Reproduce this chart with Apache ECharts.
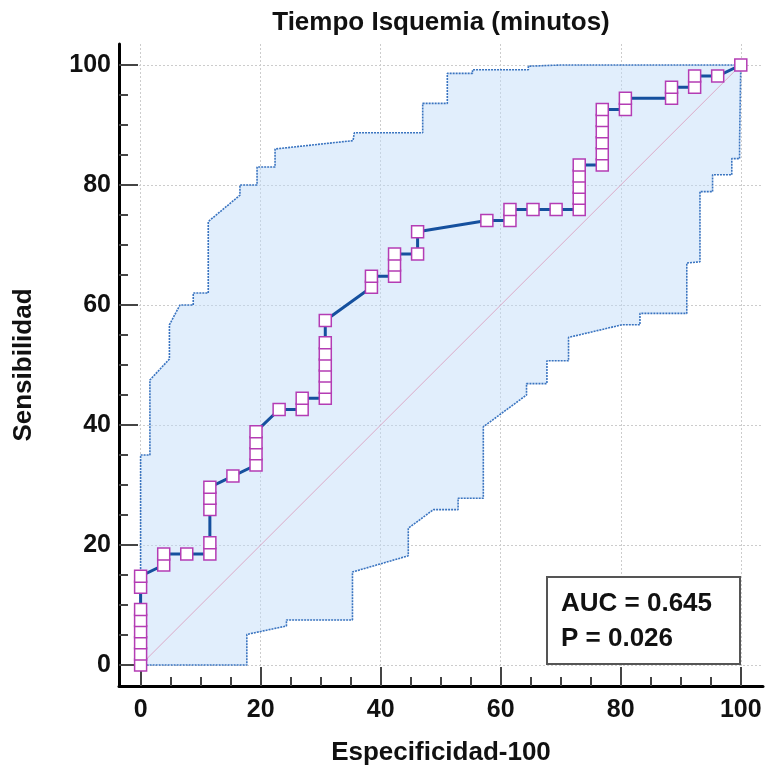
<!DOCTYPE html>
<html>
<head>
<meta charset="utf-8">
<script src="https://cdn.jsdelivr.net/npm/echarts@6/dist/echarts.min.js"></script>
<style>html,body{margin:0;padding:0;background:#fff}#c{width:769px;height:776px}</style>
</head>
<body>
<div id="c"></div>
<script>
// ROC curve points (100-Specificity, Sensitivity)
const rocX = [0,0,0,0,0,0,0,0, 3.85,3.85, 7.69, 11.54,11.54,11.54,11.54,11.54, 15.38,
  19.23,19.23,19.23,19.23, 23.08, 26.92,26.92, 30.77,30.77,30.77,30.77,30.77,30.77,30.77,
  38.46,38.46, 42.31,42.31,42.31, 46.15,46.15, 57.69, 61.54,61.54, 65.38, 69.23,
  73.08,73.08,73.08,73.08,73.08, 76.92,76.92,76.92,76.92,76.92,76.92, 80.77,80.77,
  88.46,88.46, 92.31,92.31, 96.15, 100];
const rocY = [0,1.85,3.70,5.56,7.41,9.26,12.96,14.81, 16.67,18.52, 18.52, 18.52,20.37,25.93,27.78,29.63, 31.48,
  33.33,35.19,37.04,38.89, 42.59, 42.59,44.44, 44.44,46.30,48.15,50.00,51.85,53.70,57.41,
  62.96,64.81, 64.81,66.67,68.52, 68.52,72.22, 74.07, 74.07,75.93, 75.93, 75.93,
  75.93,77.78,79.63,81.48,83.33, 83.33,85.19,87.04,88.89,90.74,92.59, 92.59,94.44,
  94.44,96.30, 96.30,98.15, 98.15, 100];
// 95% confidence bounds
const upperX = [0,0,1.55,1.55,4.8,4.8,6.55,8.77,8.77,11.27,11.27,16.55,16.55,19.4,19.4,22.4,22.4,35.4,35.6,47,47,51.1,51.1,55.3,55.3,64.6,64.6,70,100];
const upperY = [0,35,35,47.5,51,56.7,60,60,62,62,73.9,78.3,80,80,83,83,86,87.4,88.7,88.7,93.6,93.6,98.6,98.6,99.2,99.2,99.8,100,100];
const lowerX = [0,17.7,17.7,24.3,24.3,35.3,35.3,44.6,44.6,48.8,52.9,52.9,57.1,57.1,64.3,64.3,67.7,67.7,71.3,71.3,80.2,83.2,83.2,91,91,93.2,93.2,95.3,95.3,98.5,98.5,99.8,99.8,100,100];
const lowerY = [0,0,5.1,6.5,7.5,7.5,15.5,18.2,22.8,25.9,25.9,27.8,27.8,39.7,45,46.9,46.9,50.7,50.7,54.6,56.7,56.7,58.6,58.6,67,67.2,78.9,78.9,81.7,81.7,84.4,84.4,87.5,87.5,100];
// reference diagonal
const diagX = [0, 100];
const diagY = [0, 100];
// ticks
const majorTicks = [0, 20, 40, 60, 80, 100];
const minorTicks = [0,5,10,15,20,25,30,35,40,45,50,55,60,65,70,75,80,85,90,95,100];
const titleText = 'Tiempo Isquemia (minutos)';
const xName = 'Especificidad-100';
const yName = 'Sensibilidad';
const statsText = 'AUC = 0.645\nP = 0.026';

const zip = (a, b) => a.map((v, i) => [v, b[i]]);
const FONT = '"Liberation Sans", Arial, sans-serif';

const chart = echarts.init(document.getElementById('c'), null, {renderer: 'canvas'});
const bandPts = zip(upperX, upperY).concat(zip(lowerX, lowerY).reverse());

const mainAxisCommon = {
  type: 'value',
  axisLine: {show: true, onZero: false, lineStyle: {color: '#000', width: 3}},
  axisTick: {show: true, inside: true, customValues: majorTicks, length: 19, lineStyle: {color: '#444', width: 2}},
  splitLine: {show: true, lineStyle: {color: '#cccccc', width: 1, type: [2, 2]}},
  axisLabel: {customValues: majorTicks, fontSize: 25, fontWeight: 'bold', color: '#111', fontFamily: FONT},
  nameTextStyle: {fontSize: 26, fontWeight: 'bold', color: '#111', fontFamily: FONT}
};
const minorAxisCommon = {
  type: 'value',
  axisLine: {show: false, onZero: false},
  axisTick: {show: true, inside: true, customValues: minorTicks, length: 9, lineStyle: {color: '#444', width: 2}},
  splitLine: {show: false},
  axisLabel: {show: false}
};

chart.setOption({
  animation: false,
  backgroundColor: '#fff',
  title: [
    {text: titleText, left: 441, top: 10, textAlign: 'center', padding: 0,
     textStyle: {fontSize: 26, fontWeight: 'bold', color: '#111', fontFamily: FONT}},
    {text: statsText, left: 547, top: 577, padding: [9, 28, 8, 14], borderColor: '#555', borderWidth: 2,
     backgroundColor: '#fff',
     textStyle: {fontSize: 26, fontWeight: 'bold', color: '#111', lineHeight: 35, fontFamily: FONT}}
  ],
  grid: {left: 119, right: 6, top: 44, bottom: 90, containLabel: false},
  xAxis: [
    Object.assign({}, mainAxisCommon, {min: -3.6, max: 103.7, position: 'bottom',
      name: xName, nameLocation: 'middle', nameGap: 54,
      axisLabel: Object.assign({}, mainAxisCommon.axisLabel, {margin: 12})}),
    Object.assign({}, minorAxisCommon, {min: -3.6, max: 103.7, position: 'bottom'})
  ],
  yAxis: [
    Object.assign({}, mainAxisCommon, {min: -3.5, max: 103.5, position: 'left',
      name: yName, nameLocation: 'middle', nameGap: 82,
      axisLabel: Object.assign({}, mainAxisCommon.axisLabel, {margin: 8})}),
    Object.assign({}, minorAxisCommon, {min: -3.5, max: 103.5, position: 'left'})
  ],
  series: [
    {
      type: 'custom', xAxisIndex: 0, yAxisIndex: 0, z: 1, silent: true,
      data: [[0, 0]],
      renderItem: function (params, api) {
        return {
          type: 'polygon',
          shape: {points: bandPts.map(p => api.coord(p))},
          style: {fill: 'rgba(192,218,249,0.47)', stroke: null}
        };
      }
    },
    {type: 'line', z: 2, data: zip(upperX, upperY), showSymbol: false, symbol: 'none',
     lineStyle: {color: '#3a74c0', width: 1.6, type: [2, 1]}},
    {type: 'line', z: 2, data: zip(lowerX, lowerY), showSymbol: false, symbol: 'none',
     lineStyle: {color: '#3a74c0', width: 1.6, type: [2, 1]}},
    {type: 'line', z: 3, data: zip(diagX, diagY), showSymbol: false, symbol: 'none',
     lineStyle: {color: '#dcaac8', width: 1}},
    {type: 'line', z: 4, data: zip(rocX, rocY), symbol: 'rect', symbolSize: 12,
     lineStyle: {color: '#15509e', width: 3},
     itemStyle: {color: '#fff', borderColor: '#b43cb4', borderWidth: 1.5}}
  ]
});
</script>
</body>
</html>
